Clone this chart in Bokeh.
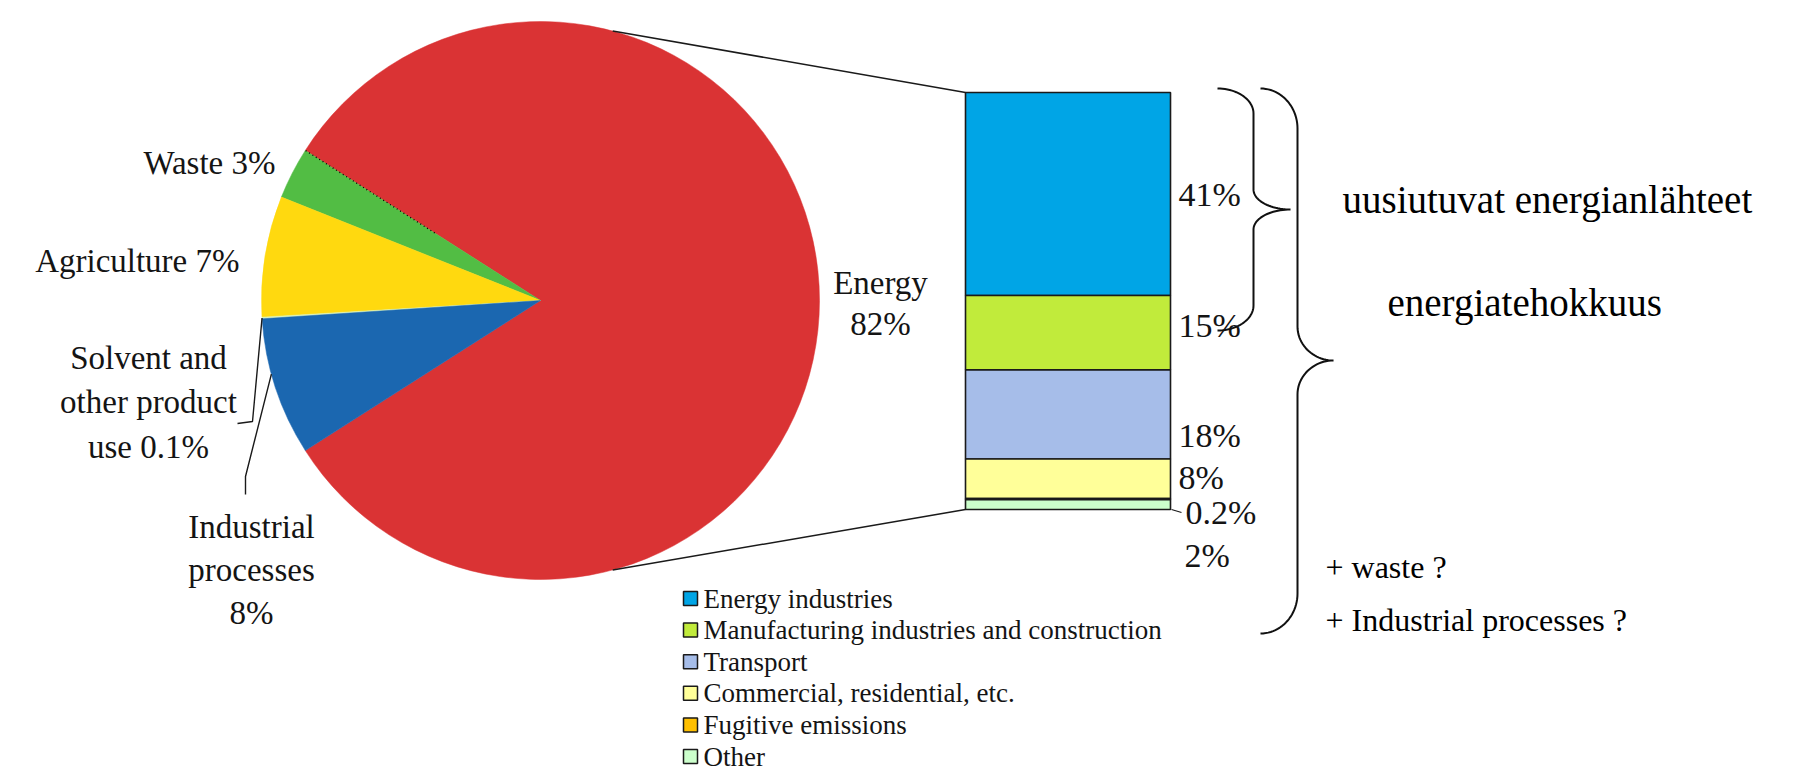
import math
import numpy as np
from bokeh.plotting import figure
from bokeh.models import Range1d, ColumnDataSource
from bokeh.core.properties import value
from bokeh.embed import file_html
from bokeh.resources import INLINE

# ---------------- data ----------------
pie_labels = ["Energy", "Waste", "Agriculture", "Solvent and other product use", "Industrial processes"]
pie_values = [82, 3, 7, 0.1, 8]
pie_colors = ["#DA3334", "#52BD44", "#FFD90F", "#D9F2B8", "#1B67B0"]

bar_labels = ["Energy industries", "Manufacturing industries and construction", "Transport",
              "Commercial, residential, etc.", "Fugitive emissions", "Other"]
bar_values = [41, 15, 18, 8, 0.2, 2]
bar_colors = ["#00A5E6", "#C1EB3B", "#A6BDE9", "#FFFF99", "#FFC000", "#CCFFCC"]

note_big = ["uusiutuvat energianlähteet", "energiatehokkuus"]
note_small = ["+ waste ?", "+ Industrial processes ?"]

# ---------------- layout (reference pixel coordinates) ----------------
W, H = 1796, 776
def Y(y):
    return 784 - y

FONT = value("Liberation Serif")
TXT = "#141414"

def pct(v):
    return f"{v:g}%"

p = figure(width=W, height=H, x_range=Range1d(0, W), y_range=Range1d(784 - H, 784),
           output_backend="svg", toolbar_location=None, min_border=0,
           x_axis_type=None, y_axis_type=None)
p.grid.visible = False
p.outline_line_color = None
p.background_fill_color = "white"
p.border_fill_color = "white"

# ---------------- pie ----------------
CX, CY, R = 540, Y(300), 279
fr = np.array(pie_values, dtype=float) / sum(pie_values)
start0 = -fr[0] * math.pi
ends = start0 + np.cumsum(fr) * 2 * math.pi
starts = np.concatenate([[start0], ends[:-1]])
pie_src = ColumnDataSource(dict(start=starts, end=ends, color=pie_colors))
p.wedge(x=CX, y=CY, radius=R, start_angle="start", end_angle="end",
        fill_color="color", line_color="color", line_width=0.5, source=pie_src)

# dotted border between Energy and Waste
a = ends[0]
p.segment(x0=[CX + 0.45 * R * math.cos(a)], y0=[CY + 0.45 * R * math.sin(a)],
          x1=[CX + R * math.cos(a)], y1=[CY + R * math.sin(a)],
          line_color="black", line_width=1.3, line_dash="1 3")

# ---------------- bar ----------------
BAR_L, BAR_R, BAR_TOP, BAR_BOT = 965, 1170, 92, 509
bar_total = sum(bar_values)
k = bar_total / (BAR_BOT - BAR_TOP)
p.extra_y_ranges = {"bar": Range1d(start=-(Y(BAR_BOT) - (784 - H)) * k,
                                   end=bar_total + (784 - Y(BAR_TOP)) * k)}
vals = np.array(bar_values, dtype=float)
tops = bar_total - np.concatenate([[0], np.cumsum(vals)[:-1]])
bottoms = tops - vals
bar_src = ColumnDataSource(dict(top=tops, bottom=bottoms, color=bar_colors))
p.quad(left=BAR_L, right=BAR_R, top="top", bottom="bottom", fill_color="color",
       line_color="#1a1a1a", line_width=1.6, source=bar_src, y_range_name="bar")

# connector lines from pie to bar
ang = math.radians(75)
p.segment(x0=[CX + R * math.cos(ang), CX + R * math.cos(-ang)],
          y0=[CY + R * math.sin(ang), CY + R * math.sin(-ang)],
          x1=[BAR_L, BAR_L], y1=[Y(BAR_TOP), Y(BAR_BOT)],
          line_color="#1a1a1a", line_width=1.5)

# bar labels (Excel places some of them off-centre: px shifts, + = down)
mids = (tops + bottoms) / 2
nudge = [0, -7, 21, -1]
lx, ly, lt = [], [], []
for i in range(4):
    lx.append(BAR_R + 8)
    ly.append(mids[i] - nudge[i] * k)
    lt.append(pct(bar_values[i]))
p.text(x=lx, y=ly, text=lt, text_font=FONT, text_font_size=value("34px"),
       text_color=TXT, text_baseline="middle", text_align="left", y_range_name="bar")
p.text(x=[1185, 1184], y=[Y(512), Y(555)], text=[pct(bar_values[4]), pct(bar_values[5])],
       text_font=FONT, text_font_size=value("34px"), text_color=TXT,
       text_baseline="middle", text_align="left")
p.line(x=[BAR_R + 1, 1181], y=[Y(BAR_BOT), Y(512)], line_color="#1a1a1a", line_width=1.3)

# ---------------- pie labels ----------------
def lines_text(x, y0, lines, align, step):
    p.text(x=[x] * len(lines), y=[Y(y0 + i * step) for i in range(len(lines))], text=lines,
           text_font=FONT, text_font_size=value("33px"), text_color=TXT,
           text_baseline="middle", text_align=align)

lines_text(880, 282, [pie_labels[0], pct(pie_values[0])], "center", 41)
lines_text(275, 162, [f"{pie_labels[1]} {pct(pie_values[1])}"], "right", 0)
lines_text(239, 260, [f"{pie_labels[2]} {pct(pie_values[2])}"], "right", 0)
lines_text(148, 357, ["Solvent and", "other product", f"use {pct(pie_values[3])}"], "center", 44.5)
lines_text(251, 526, ["Industrial", "processes", pct(pie_values[4])], "center", 43)

# leader lines for small slices
m_solv = (starts[3] + ends[3]) / 2
m_ind = (starts[4] + ends[4]) / 2 - 0.05
p.line(x=[CX + R * math.cos(m_solv), 252, 237],
       y=[CY + R * math.sin(m_solv), Y(421), Y(423)], line_color="#1a1a1a", line_width=1.4)
p.line(x=[CX + R * math.cos(m_ind), 245, 245],
       y=[CY + R * math.sin(m_ind), Y(476), Y(494)], line_color="#1a1a1a", line_width=1.4)

# ---------------- legend ----------------
LEG_Y0, LEG_STEP = 598, 31.6
leg_y = [Y(LEG_Y0 + i * LEG_STEP) for i in range(len(bar_labels))]
p.rect(x=[690] * len(bar_labels), y=leg_y, width=14, height=14, fill_color=bar_colors,
       line_color="#1a1a1a", line_width=1.5)
p.text(x=[703] * len(bar_labels), y=leg_y, text=bar_labels, text_font=FONT,
       text_font_size=value("27px"), text_color=TXT, text_baseline="middle", text_align="left")

# ---------------- braces ----------------
def bez(p0, p1, p2, p3, n=24):
    t = np.linspace(0, 1, n)
    xs = ((1 - t) ** 3) * p0[0] + 3 * ((1 - t) ** 2) * t * p1[0] + 3 * (1 - t) * t * t * p2[0] + t ** 3 * p3[0]
    ys = ((1 - t) ** 3) * p0[1] + 3 * ((1 - t) ** 2) * t * p1[1] + 3 * (1 - t) * t * t * p2[1] + t ** 3 * p3[1]
    return list(xs), list(ys)

def brace(x_end, x_vert, x_tip, y_top, y_tip, y_bot, c_end, c_tip):
    kk = 0.55
    xs, ys = [], []
    for seg in [
        ((x_end, y_top), (x_end + kk * (x_vert - x_end), y_top), (x_vert, y_top + c_end * (1 - kk)), (x_vert, y_top + c_end)),
        ((x_vert, y_tip - c_tip), (x_vert, y_tip - c_tip * (1 - kk)), (x_tip - kk * (x_tip - x_vert), y_tip), (x_tip, y_tip)),
        ((x_tip, y_tip), (x_tip - kk * (x_tip - x_vert), y_tip), (x_vert, y_tip + c_tip * (1 - kk)), (x_vert, y_tip + c_tip)),
        ((x_vert, y_bot - c_end), (x_vert, y_bot - c_end * (1 - kk)), (x_end + kk * (x_vert - x_end), y_bot), (x_end, y_bot)),
    ]:
        bx, by = bez(*seg)
        xs += bx
        ys += by
    p.line(x=xs, y=[Y(v) for v in ys], line_color="#111111", line_width=2)

brace(1217, 1253, 1290, 88, 209, 330, 25, 20)
brace(1260, 1297, 1333, 88, 360, 633, 40, 34)

# ---------------- notes ----------------
p.text(x=[1342, 1387], y=[Y(199), Y(302)], text=note_big, text_font=FONT,
       text_font_size=value("39px"), text_color="black", text_baseline="alphabetic", text_align="left")
p.text(x=[1325, 1325], y=[Y(566), Y(619)], text=note_small, text_font=FONT,
       text_font_size=value("32px"), text_color="black", text_baseline="middle", text_align="left")

open("out.html", "w").write(file_html(p, INLINE))
